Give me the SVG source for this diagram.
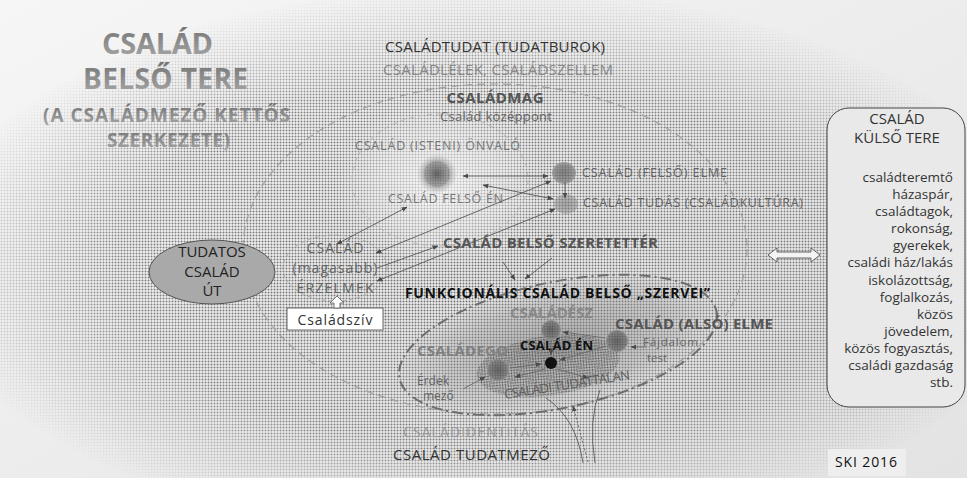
<svg xmlns="http://www.w3.org/2000/svg" width="967" height="478" viewBox="0 0 967 478">
<style>
text{font-family:"Open Sans","Liberation Sans",sans-serif;}
.b{font-weight:bold;}
.title{font-weight:bold;fill:url(#tg);}
.conn{stroke:#5a5a5a;stroke-width:0.9;fill:none;}
.inner{stroke:#6a6a6a;stroke-width:0.9;fill:none;}
.rt{font-size:13.5px;fill:#333;text-anchor:end;}
</style>
<defs>
<linearGradient id="bg" x1="0" y1="0" x2="1" y2="1">
<stop offset="0" stop-color="#f6f6f6"/><stop offset="1" stop-color="#e3e3e3"/>
</linearGradient>
<linearGradient id="tg" x1="0" y1="0" x2="0" y2="1">
<stop offset="0" stop-color="#707070"/><stop offset="1" stop-color="#ababab"/>
</linearGradient>
<pattern id="dots" width="3" height="3" patternUnits="userSpaceOnUse">
<circle cx="1.5" cy="1.5" r="1" fill="#6e6e6e"/>
</pattern>
<pattern id="ddots" width="2.6" height="2.6" patternUnits="userSpaceOnUse">
<circle cx="1.3" cy="1.3" r="0.85" fill="#222"/>
</pattern>
<radialGradient id="mg" cx="0.5" cy="0.55" r="0.58">
<stop offset="0" stop-color="#fff" stop-opacity="1"/>
<stop offset="0.65" stop-color="#fff" stop-opacity="0.85"/>
<stop offset="1" stop-color="#fff" stop-opacity="0"/>
</radialGradient>
<mask id="m1"><rect width="967" height="478" fill="url(#mg)"/></mask>
<radialGradient id="halo" cx="0.5" cy="0.5" r="0.5">
<stop offset="0" stop-color="#ffffff" stop-opacity="0.6"/>
<stop offset="0.6" stop-color="#eeeeee" stop-opacity="0.4"/>
<stop offset="1" stop-color="#eeeeee" stop-opacity="0"/>
</radialGradient>
<radialGradient id="fshade" cx="0.5" cy="0.5" r="0.5">
<stop offset="0" stop-color="#6e6e6e" stop-opacity="0.5"/>
<stop offset="0.7" stop-color="#909090" stop-opacity="0.3"/>
<stop offset="1" stop-color="#a8a8a8" stop-opacity="0.05"/>
</radialGradient>
<radialGradient id="blob" cx="0.5" cy="0.5" r="0.5">
<stop offset="0" stop-color="#666"/>
<stop offset="0.6" stop-color="#8c8c8c" stop-opacity="0.7"/>
<stop offset="1" stop-color="#aaaaaa" stop-opacity="0"/>
</radialGradient>
<radialGradient id="node" cx="0.5" cy="0.5" r="0.5">
<stop offset="0" stop-color="#6a6a6a"/>
<stop offset="1" stop-color="#8e8e8e"/>
</radialGradient>
<marker id="ah" viewBox="0 0 10 10" refX="9" refY="5" markerWidth="6" markerHeight="6" orient="auto-start-reverse" markerUnits="userSpaceOnUse">
<path d="M0,1 L10,5 L0,9 Z" fill="#4a4a4a"/>
</marker>
</defs>

<!-- background -->
<rect width="967" height="478" fill="url(#bg)"/>
<rect width="967" height="478" fill="url(#dots)" mask="url(#m1)"/>
<ellipse cx="440" cy="185" rx="105" ry="85" fill="url(#halo)"/>

<!-- field ellipses -->
<g id="tudatmezo">
<ellipse cx="495" cy="249" rx="252" ry="165" fill="none" stroke="#a0a0a0" stroke-width="1.2" stroke-dasharray="8 5"/>
</g>
<g id="onvalo-field">
<ellipse cx="440" cy="180" rx="88" ry="66" fill="none" stroke="#b8b8b8" stroke-width="1" stroke-dasharray="5 4"/>
</g>
<g id="funkcionalis">
<ellipse cx="558" cy="345" rx="162" ry="63" transform="rotate(-12 558 345)" fill="url(#fshade)"/>
<ellipse cx="548" cy="366" rx="72" ry="30" transform="rotate(-8 548 366)" fill="url(#ddots)" opacity="0.5"/>
<ellipse cx="558" cy="345" rx="162" ry="63" transform="rotate(-12 558 345)" fill="none" stroke="#6e6e6e" stroke-width="2" stroke-dasharray="11 4 2 4"/>
<text x="405" y="298" class="b" font-size="14" fill="#111" textLength="305">FUNKCIONÁLIS CSALÁD BELSŐ „SZERVEI”</text>
</g>

<!-- title -->
<g id="title">
<text x="102" y="54" class="title" font-size="29" textLength="111">CSALÁD</text>
<text x="83" y="89" class="title" font-size="28" textLength="165">BELSŐ TERE</text>
<text x="43" y="122" class="title" font-size="19" textLength="247">(A CSALÁDMEZŐ KETTŐS</text>
<text x="107" y="147" class="title" font-size="19" textLength="123">SZERKEZETE)</text>
</g>

<!-- top labels -->
<g id="tudat">
<text x="495" y="52" font-size="15" fill="#333" text-anchor="middle" textLength="220">CSALÁDTUDAT (TUDATBUROK)</text>
<text x="498" y="75" font-size="15" fill="#8a8a8a" text-anchor="middle" textLength="230">CSALÁDLÉLEK, CSALÁDSZELLEM</text>
</g>
<g id="csaladmag">
<text x="495" y="103" class="b" font-size="15" fill="#555" text-anchor="middle" textLength="97">CSALÁDMAG</text>
<text x="496" y="121" font-size="13" fill="#666" text-anchor="middle" textLength="112">Család középpont</text>
</g>

<g id="onvalo">
<circle cx="437" cy="174" r="20" fill="url(#blob)"/>
<circle cx="437" cy="174" r="13" fill="url(#ddots)" opacity="0.3"/>
<text x="355" y="150" font-size="12.5" fill="#777" textLength="165">CSALÁD (ISTENI) ÖNVALÓ</text>
</g>
<g id="felso-en">
<text x="388" y="203" font-size="12.5" fill="#777" textLength="115">CSALÁD FELSŐ ÉN</text>
</g>
<g id="felso-elme">
<ellipse cx="564" cy="173" rx="12" ry="11" fill="url(#node)" opacity="0.75"/>
<ellipse cx="564" cy="173" rx="10" ry="9" fill="url(#ddots)" opacity="0.25"/>
<text x="582" y="177" font-size="12.5" fill="#666" textLength="145">CSALÁD (FELSŐ) ELME</text>
</g>
<g id="tudas">
<ellipse cx="566" cy="204" rx="12" ry="10" fill="url(#node)" opacity="0.5"/>
<text x="583" y="207" font-size="12.5" fill="#666" textLength="220">CSALÁD TUDÁS (CSALÁDKULTÚRA)</text>
</g>
<g id="szeretetter">
<text x="443" y="248" class="b" font-size="15" fill="#555" textLength="215">CSALÁD BELSŐ SZERETETTÉR</text>
</g>

<g id="tudatos-ut">
<ellipse cx="212" cy="272" rx="63" ry="32" fill="#a9a9a9" stroke="#555" stroke-width="1"/>
<text x="212" y="257" font-size="15" fill="#222" text-anchor="middle">TUDATOS</text>
<text x="212" y="277" font-size="15" fill="#222" text-anchor="middle">CSALÁD</text>
<text x="212" y="296" font-size="15" fill="#222" text-anchor="middle">ÚT</text>
</g>

<g id="erzelmek">
<ellipse cx="335" cy="268" rx="52" ry="33" fill="none" stroke="#a8a8a8" stroke-width="1" stroke-dasharray="4 3"/>
<text x="335" y="253" font-size="14" fill="#666" text-anchor="middle" textLength="57">CSALÁD</text>
<text x="335" y="273" font-size="14" fill="#666" text-anchor="middle" textLength="85">(magasabb)</text>
<text x="335" y="293" font-size="14" fill="#666" text-anchor="middle" textLength="77">ÉRZELMEK</text>
</g>

<g id="csaladsziv">
<rect x="287" y="308" width="96" height="22" fill="#fff" stroke="#666" stroke-width="1"/>
<text x="335" y="325" font-size="14" fill="#333" text-anchor="middle" textLength="75">Családszív</text>
<polygon points="337,296 330,303 334,303 334,308 340,308 340,303 344,303" fill="#fff" stroke="#666" stroke-width="0.9"/>
</g>

<g id="csaladesz">
<circle cx="551" cy="330" r="10" fill="url(#node)"/>
<circle cx="551" cy="330" r="9" fill="url(#ddots)" opacity="0.4"/>
<text x="510" y="318" class="b" font-size="15" fill="#888" textLength="83">CSALÁDÉSZ</text>
</g>
<g id="also-elme">
<circle cx="617" cy="341" r="11" fill="url(#node)"/>
<circle cx="617" cy="341" r="10" fill="url(#ddots)" opacity="0.4"/>
<text x="615" y="329" class="b" font-size="15" fill="#555" textLength="158">CSALÁD (ALSÓ) ELME</text>
<text x="643" y="346" font-size="11.5" fill="#666" textLength="55">Fájdalom</text>
<text x="647" y="362" font-size="11.5" fill="#666">test</text>
</g>
<g id="csaladego">
<circle cx="498" cy="370" r="11" fill="url(#node)"/>
<circle cx="498" cy="370" r="10" fill="url(#ddots)" opacity="0.4"/>
<text x="417" y="356" class="b" font-size="15" fill="#808080" textLength="91">CSALÁDEGO</text>
<text x="417" y="385" font-size="12" fill="#666">Érdek</text>
<text x="423" y="400" font-size="12" fill="#666">mező</text>
</g>
<g id="csalad-en">
<circle cx="551" cy="363" r="6" fill="#111"/>
<text x="520" y="350" class="b" font-size="13" fill="#111" textLength="73">CSALÁD ÉN</text>
</g>
<g id="tudattalan">
<text x="505" y="399" font-size="13" fill="#5e5e5e" transform="rotate(-9 505 399)" textLength="127">CSALÁDI TUDATTALAN</text>
</g>

<g id="bottom-labels">
<text x="403" y="437" font-size="14" fill="#999" textLength="135">CSALÁDIDENTITÁS</text>
<text x="393" y="460" font-size="15" fill="#333" textLength="157">CSALÁD TUDATMEZŐ</text>
</g>

<g id="kulso-tere">
<rect x="827" y="108" width="138" height="299" rx="22" fill="#e9e9e9" stroke="#444" stroke-width="1"/>
<text x="897" y="124" font-size="15" fill="#333" text-anchor="middle">CSALÁD</text>
<text x="897" y="143" font-size="15" fill="#333" text-anchor="middle">KÜLSŐ TERE</text>
<text x="953" y="182" class="rt">családteremtő</text>
<text x="953" y="199" class="rt">házaspár,</text>
<text x="953" y="216" class="rt">családtagok,</text>
<text x="953" y="233" class="rt">rokonság,</text>
<text x="953" y="250" class="rt">gyerekek,</text>
<text x="953" y="267" class="rt">családi ház/lakás</text>
<text x="953" y="285" class="rt">iskolázottság,</text>
<text x="953" y="302" class="rt">foglalkozás,</text>
<text x="953" y="319" class="rt">közös</text>
<text x="953" y="336" class="rt">jövedelem,</text>
<text x="953" y="353" class="rt">közös fogyasztás,</text>
<text x="953" y="370" class="rt">családi gazdaság</text>
<text x="953" y="387" class="rt">stb.</text>
</g>

<g id="ski">
<rect x="828" y="449" width="78" height="27" fill="#eeeeee"/>
<text x="835" y="467" font-size="14" fill="#111" textLength="62">SKI 2016</text>
</g>

<!-- connectors -->
<g id="connectors">
<line class="conn" x1="463" y1="176" x2="548" y2="176" marker-start="url(#ah)" marker-end="url(#ah)"/>
<line class="conn" x1="483" y1="185" x2="553" y2="199" marker-start="url(#ah)" marker-end="url(#ah)"/>
<line class="conn" x1="565" y1="182" x2="565" y2="198" marker-end="url(#ah)"/>
<line class="conn" x1="407" y1="207" x2="337" y2="244" marker-start="url(#ah)" marker-end="url(#ah)"/>
<line class="conn" x1="376" y1="253" x2="551" y2="181" marker-start="url(#ah)" marker-end="url(#ah)"/>
<line class="conn" x1="377" y1="268" x2="438" y2="246" marker-end="url(#ah)"/>
<line class="conn" x1="377" y1="281" x2="555" y2="209" marker-start="url(#ah)" marker-end="url(#ah)"/>
<line class="conn" x1="503" y1="262" x2="515" y2="280" marker-end="url(#ah)"/>
<line class="conn" x1="552" y1="258" x2="525" y2="279" marker-end="url(#ah)"/>
<line class="inner" x1="463" y1="389" x2="485" y2="377" marker-end="url(#ah)"/>
<line class="inner" x1="646" y1="347" x2="631" y2="347" marker-end="url(#ah)"/>
<line class="inner" x1="510" y1="368" x2="541" y2="364" marker-end="url(#ah)"/>
<line class="inner" x1="551" y1="341" x2="551" y2="355" marker-end="url(#ah)"/>
<line class="inner" x1="606" y1="346" x2="560" y2="360" marker-end="url(#ah)"/>
<line class="inner" x1="605" y1="338" x2="563" y2="332" marker-end="url(#ah)"/>
<line class="inner" x1="545" y1="369" x2="515" y2="377" marker-end="url(#ah)"/>
<line class="inner" x1="557" y1="369" x2="588" y2="378" marker-end="url(#ah)"/>
<path class="conn" d="M546,398 Q576,418 583,463"/>
<path class="conn" d="M600,390 Q588,420 595,463"/>
<path d="M588,462 L573,406" stroke="#666" stroke-width="1" stroke-dasharray="2 2" fill="none" marker-end="url(#ah)"/>
<polygon points="768,255 777,248 777,252 811,252 811,248 820,255 811,262 811,258 777,258 777,262" fill="#f4f4f4" stroke="#555" stroke-width="0.9"/>
</g>
</svg>
